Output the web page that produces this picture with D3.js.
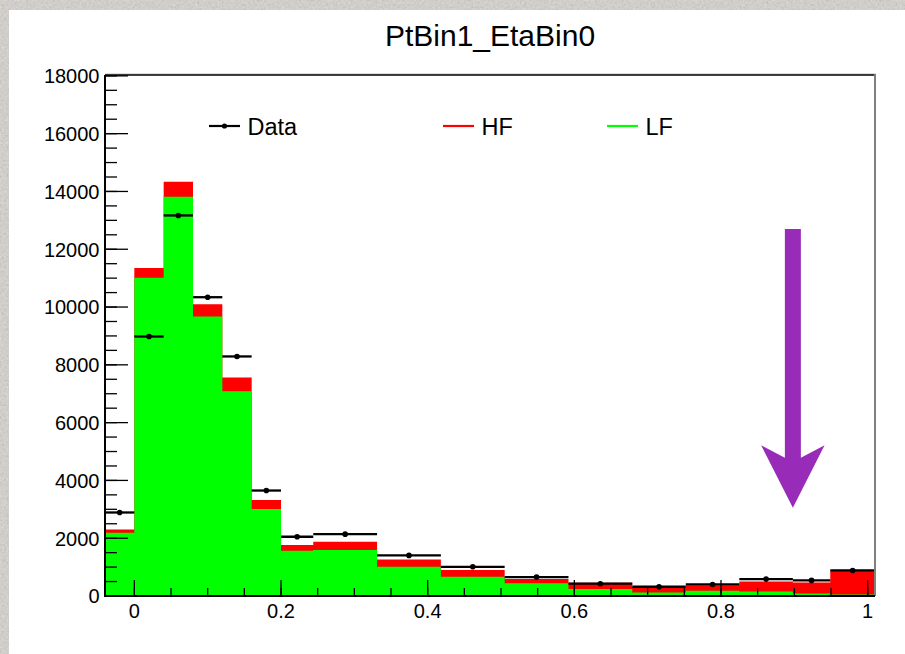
<!DOCTYPE html>
<html>
<head>
<meta charset="utf-8">
<script src="https://cdn.jsdelivr.net/npm/d3@7"></script>
<style>
  html, body { margin: 0; padding: 0; background: #dcd8d2; }
  svg { display: block; }
  text { font-family: "Liberation Sans", Arial, Helvetica, sans-serif; fill: #000; }
</style>
</head>
<body>
<svg id="chart" width="905" height="654"></svg>
<script>
// Discriminant bins (variable width)
const binEdges = [-0.04, 0, 0.04, 0.08, 0.12, 0.16, 0.2, 0.244, 0.331, 0.418, 0.505,
                  0.592, 0.679, 0.752, 0.825, 0.898, 0.949, 1.01];
// Light-flavour template (bottom of stack)
const lfValues = [2190, 11010, 13820, 9670, 7090, 3010, 1570, 1590, 1010, 670, 440,
                  240, 120, 180, 160, 90, 55];
// Heavy-flavour template (stacked on top of LF)
const hfValues = [110, 345, 520, 425, 475, 310, 195, 290, 255, 230, 150,
                  220, 170, 190, 345, 380, 810];
// Observed counts
const dataValues = [2890, 8980, 13170, 10340, 8290, 3650, 2050, 2140, 1405, 1010, 655,
                    425, 320, 400, 585, 540, 885];

const xMajorTicks = [0, 0.2, 0.4, 0.6, 0.8, 1];
const xTickLabels = ["0", "0.2", "0.4", "0.6", "0.8", "1"];
const yMajorTicks = [0, 2000, 4000, 6000, 8000, 10000, 12000, 14000, 16000, 18000];
const yTickLabels = ["0", "2000", "4000", "6000", "8000", "10000", "12000", "14000", "16000", "18000"];

const legendNames = ["Data", "HF", "LF"];
const chartTitle = "PtBin1_EtaBin0";
// Cut marker (tight working point)
const cutX = [0.898];
const cutY = [12700, 3050];

const colors = { LF: "#00ff00", HF: "#ff0000", Data: "#000000", arrow: "#982cb9" };

const svg = d3.select("#chart");
const W = 905, H = 654;
const plot = { left: 105, right: 875, top: 75, bottom: 596 };

// textured surround
const defs = svg.append("defs");
const f = defs.append("filter").attr("id", "grain")
  .attr("x", 0).attr("y", 0).attr("width", "100%").attr("height", "100%");
f.append("feTurbulence").attr("type", "fractalNoise")
  .attr("baseFrequency", 0.45).attr("numOctaves", 3).attr("seed", 7).attr("result", "n");
f.append("feColorMatrix").attr("type", "matrix")
  .attr("values", "0.33 0.33 0.33 0 0  0.33 0.33 0.33 0 0  0.33 0.33 0.33 0 0  0 0 0 0 0.35");

svg.append("rect").attr("width", W).attr("height", H).attr("fill", "#dcd8d2");
svg.append("rect").attr("width", W).attr("height", H).attr("filter", "url(#grain)");
svg.append("rect").attr("x", 9).attr("y", 10).attr("width", W - 9).attr("height", H - 10)
  .attr("fill", "#ffffff");

const x = d3.scaleLinear().domain([-0.04, 1.01]).range([plot.left, plot.right]);
const y = d3.scaleLinear().domain([0, 18030]).range([plot.bottom, plot.top]);

const bins = lfValues.map((lf, i) => ({
  x0: binEdges[i], x1: binEdges[i + 1], lf, hf: hfValues[i], data: dataValues[i]
}));

// stacked histogram as step areas: total (HF on top) then LF over it
const stepPts = bins.concat([{ ...bins[bins.length - 1], x0: bins[bins.length - 1].x1 }]);
const stepArea = acc => d3.area()
  .curve(d3.curveStepAfter)
  .x(d => x(d.x0)).y0(y(0)).y1(d => y(acc(d)));
svg.append("path").datum(stepPts).attr("d", stepArea(d => d.lf + d.hf)).attr("fill", colors.HF);
svg.append("path").datum(stepPts).attr("d", stepArea(d => d.lf)).attr("fill", colors.LF);

// data points with bin-width error bars
const gData = svg.append("g");
gData.selectAll("line").data(bins).join("line")
  .attr("x1", d => x(d.x0)).attr("x2", d => x(d.x1))
  .attr("y1", d => y(d.data)).attr("y2", d => y(d.data))
  .attr("stroke", colors.Data).attr("stroke-width", 2.3);
gData.selectAll("circle").data(bins).join("circle")
  .attr("cx", d => x((d.x0 + d.x1) / 2)).attr("cy", d => y(d.data))
  .attr("r", 2.8).attr("fill", colors.Data);

// frame
svg.append("line").attr("x1", plot.left).attr("x2", plot.right + 1)
  .attr("y1", plot.top - 1).attr("y2", plot.top - 1).attr("stroke", "#bbb").attr("stroke-width", 1);
svg.append("line").attr("x1", plot.left).attr("x2", plot.right)
  .attr("y1", plot.top).attr("y2", plot.top).attr("stroke", "#000").attr("stroke-width", 1.3);
svg.append("line").attr("x1", plot.right).attr("x2", plot.right)
  .attr("y1", plot.top - 1).attr("y2", plot.bottom).attr("stroke", "#7f7f7f").attr("stroke-width", 2);

// x axis
const xMinor = d3.range(0, 1.0001, 0.05).map(v => +v.toFixed(2));
const gx = svg.append("g");
gx.selectAll("line.minor").data(xMinor).join("line")
  .attr("x1", d => x(d)).attr("x2", d => x(d))
  .attr("y1", plot.bottom).attr("y2", plot.bottom - 8)
  .attr("stroke", "#000").attr("stroke-width", 1.3);
gx.selectAll("line.major").data(xMajorTicks).join("line")
  .attr("x1", d => x(d)).attr("x2", d => x(d))
  .attr("y1", plot.bottom).attr("y2", plot.bottom - 16)
  .attr("stroke", "#000").attr("stroke-width", 1.3);
gx.selectAll("text").data(xMajorTicks).join("text")
  .attr("x", d => x(d)).attr("y", 617.5)
  .attr("text-anchor", "middle").attr("font-size", 20)
  .text((d, i) => xTickLabels[i]);
svg.append("line").attr("x1", plot.left - 1).attr("x2", plot.right)
  .attr("y1", plot.bottom).attr("y2", plot.bottom)
  .attr("stroke", "#000").attr("stroke-width", 2);

// y axis
const yMinor = d3.range(0, 18001, 500);
const gy = svg.append("g");
gy.selectAll("line.minor").data(yMinor).join("line")
  .attr("x1", plot.left).attr("x2", plot.left + 12)
  .attr("y1", d => y(d)).attr("y2", d => y(d))
  .attr("stroke", "#000").attr("stroke-width", 1.3);
gy.selectAll("line.major").data(yMajorTicks).join("line")
  .attr("x1", plot.left).attr("x2", plot.left + 23)
  .attr("y1", d => y(d)).attr("y2", d => y(d))
  .attr("stroke", "#000").attr("stroke-width", 1.3);
gy.selectAll("text").data(yMajorTicks).join("text")
  .attr("x", 99.5).attr("y", d => y(d) + 7.3)
  .attr("text-anchor", "end").attr("font-size", 20)
  .text((d, i) => yTickLabels[i]);
svg.append("line").attr("x1", plot.left).attr("x2", plot.left)
  .attr("y1", plot.top).attr("y2", plot.bottom + 1)
  .attr("stroke", "#000").attr("stroke-width", 2);

// title
svg.append("text").attr("x", (plot.left + plot.right) / 2).attr("y", 45.5)
  .attr("text-anchor", "middle").attr("font-size", 30)
  .text(chartTitle);

// legend
const legendItems = [
  { name: legendNames[0], x: 209, color: colors.Data, marker: true },
  { name: legendNames[1], x: 443, color: colors.HF, marker: false },
  { name: legendNames[2], x: 607, color: colors.LF, marker: false }
];
const gl = svg.append("g");
legendItems.forEach(it => {
  gl.append("line").attr("x1", it.x).attr("x2", it.x + 31)
    .attr("y1", 126).attr("y2", 126).attr("stroke", it.color).attr("stroke-width", 2.2);
  if (it.marker) gl.append("circle").attr("cx", it.x + 15.5).attr("cy", 126).attr("r", 2.6).attr("fill", it.color);
  gl.append("text").attr("x", it.x + 38.5).attr("y", 134.5).attr("font-size", 23.5).text(it.name);
});

// cut marker arrow
const ax = x(cutX[0]), yTop = y(cutY[0]), yTip = y(cutY[1]);
const shaftHalf = 8, wingHalf = 31.7, wingDrop = 62.5, notch = 50;
const arrowPts = [
  [ax - shaftHalf, yTop], [ax + shaftHalf, yTop],
  [ax + shaftHalf, yTip - notch], [ax + wingHalf, yTip - wingDrop],
  [ax, yTip],
  [ax - wingHalf, yTip - wingDrop], [ax - shaftHalf, yTip - notch]
];
svg.append("polygon").attr("points", arrowPts.map(p => p.join(",")).join(" "))
  .attr("fill", colors.arrow);
</script>
</body>
</html>
